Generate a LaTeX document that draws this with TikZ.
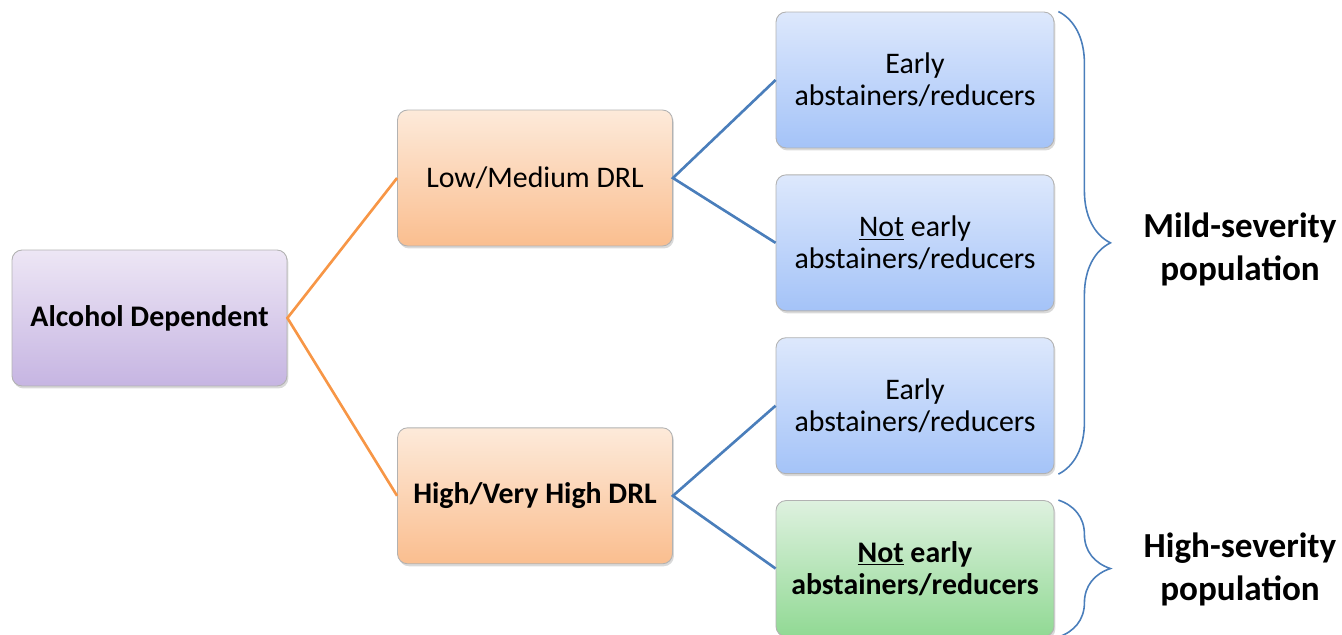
\documentclass[tikz,border=0pt]{standalone}
\usepackage{fontspec}
\setmainfont{Carlito}
\usepackage{tikz}
\usetikzlibrary{positioning,shadows,decorations.pathreplacing}
\definecolor{orangeline}{HTML}{F79646}
\definecolor{blueline}{HTML}{4A7EBB}

\begin{document}
\begin{tikzpicture}[x=0.02cm,y=-0.02cm,
  box/.style={draw=gray!60,line width=0.5pt,rounded corners=0.2cm,minimum width=5.5cm,minimum height=2.72cm,
    align=center,font=\fontsize{17}{18.5}\selectfont,
    drop shadow={shadow xshift=0.8pt,shadow yshift=-1.4pt,opacity=0.3}},
  purplebox/.style={box,top color={rgb,255:red,237;green,230;blue,245},bottom color={rgb,255:red,198;green,181;blue,226}},
  orangebox/.style={box,top color={rgb,255:red,253;green,234;blue,218},bottom color={rgb,255:red,250;green,190;blue,143}},
  bluebox/.style={box,minimum width=5.56cm,top color={rgb,255:red,221;green,232;blue,252},bottom color={rgb,255:red,164;green,195;blue,248}},
  greenbox/.style={box,minimum width=5.56cm,font=\fontsize{17}{18.5}\selectfont\bfseries,
    top color={rgb,255:red,222;green,241;blue,223},bottom color={rgb,255:red,145;green,217;blue,148}},
  brace/.style={draw=blueline,line width=0.9pt,decorate,decoration={brace,amplitude=1.04cm}},
  lbl/.style={align=center,font=\fontsize{20}{24.5}\selectfont\bfseries}]
\useasboundingbox (0,0) rectangle (1342,635);
\node [purplebox] (ad) at (149.5,318) {\textbf{Alcohol Dependent}};
\node [orangebox] (lm) at (535,178) {Low/Medium DRL};
\node [orangebox, below=3.62cm of lm] (hv) {\textbf{High/Very High DRL}};
\node [bluebox] (b1) at (915,80) {Early\\abstainers/reducers};
\node [bluebox, below=0.52cm of b1] (b2) {\underline{Not} early\\abstainers/reducers};
\node [bluebox, below=0.52cm of b2] (b3) {Early\\abstainers/reducers};
\node [greenbox, below=0.52cm of b3] (b4) {\underline{Not} early\\abstainers/reducers};
\draw [orangeline, line width=1.5pt] (lm.west) -- (ad.east) -- (hv.west);
\draw [blueline, line width=1.5pt] (b1.west) -- (lm.east) -- (b2.west);
\draw [blueline, line width=1.5pt] (b3.west) -- (hv.east) -- (b4.west);
\draw [brace] ([xshift=0.08cm]b1.north east) -- ([xshift=0.08cm]b3.south east);
\draw [brace] ([xshift=0.08cm]b4.north east) -- ([xshift=0.08cm]b4.south east);
\node [lbl] (mild) at (1240,249) {Mild-severity\\population};
\node [lbl] (high) at (1240,569) {High-severity\\population};
\end{tikzpicture}
\end{document}
